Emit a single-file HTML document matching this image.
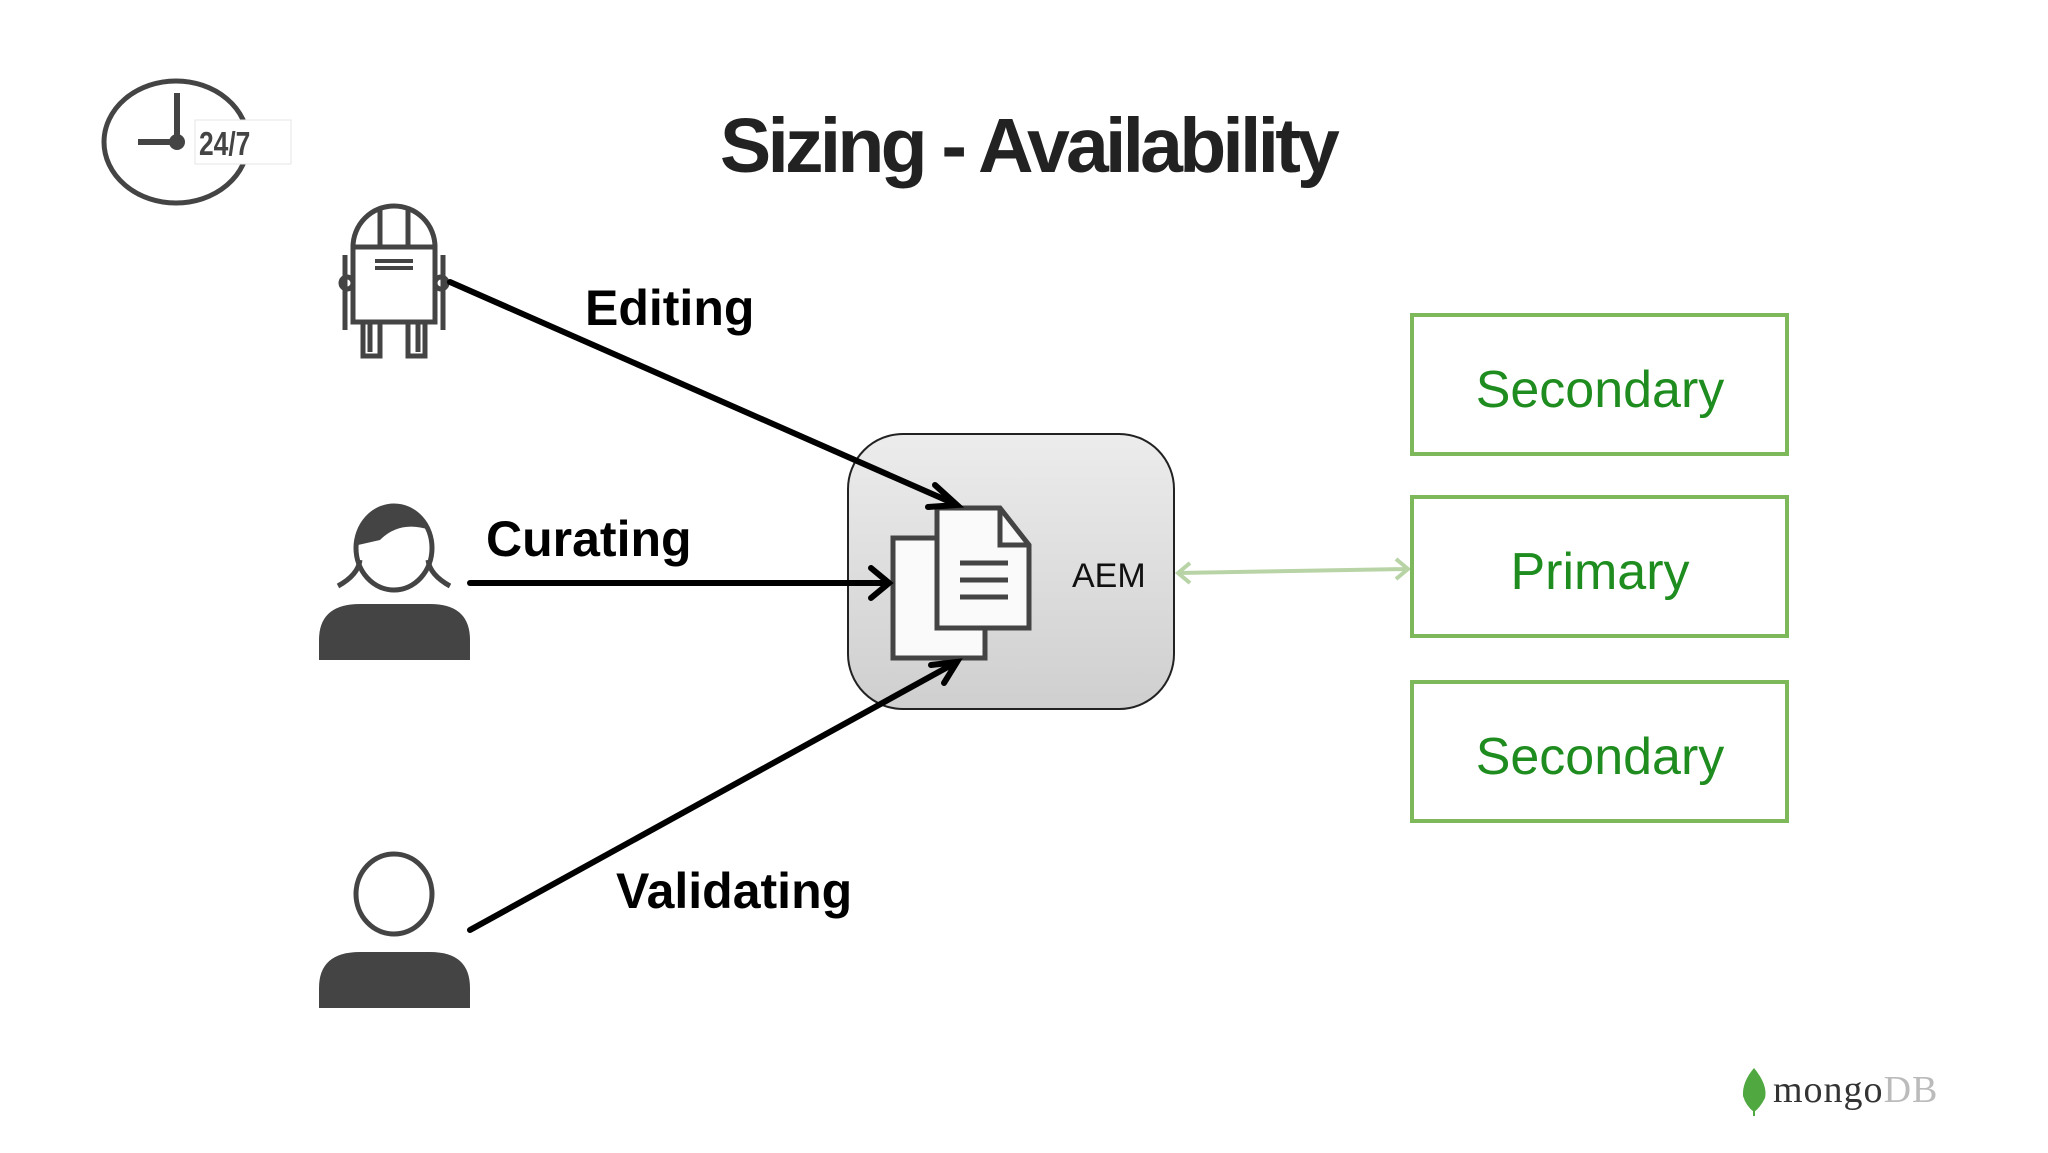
<!DOCTYPE html>
<html><head><meta charset="utf-8"><style>
html,body{margin:0;padding:0;background:#fff;}
svg{display:block}
</style></head><body>
<svg width="2048" height="1153" viewBox="0 0 2048 1153" xmlns="http://www.w3.org/2000/svg">
<defs>
<linearGradient id="g" x1="0" y1="0" x2="0" y2="1">
<stop offset="0" stop-color="#ececec"/><stop offset="1" stop-color="#cfcfcf"/>
</linearGradient>
</defs>
<!-- clock -->
<ellipse cx="176" cy="142" rx="72" ry="61" fill="none" stroke="#444" stroke-width="5"/>
<line x1="177" y1="93" x2="177" y2="142" stroke="#444" stroke-width="6"/>
<line x1="138" y1="142" x2="177" y2="142" stroke="#444" stroke-width="6"/>
<circle cx="177" cy="142" r="8" fill="#444"/>
<rect x="195" y="120" width="96" height="44" fill="#fff" stroke="#e4e4e4" stroke-width="1"/>
<text x="199" y="155" font-family="Liberation Sans Narrow, Liberation Sans, sans-serif" font-size="33" font-weight="bold" fill="#444" transform="translate(199 0) scale(0.8 1) translate(-199 0)">24/7</text>
<!-- title -->
<text x="1028" y="172" text-anchor="middle" font-family="Liberation Sans, sans-serif" font-size="77" font-weight="bold" fill="#222" letter-spacing="-3.8">Sizing - Availability</text>
<!-- robot -->
<g fill="none" stroke="#444" stroke-width="5">
<path d="M353 258 V247 a41 41 0 0 1 82 0 V258"/>
<rect x="353" y="247" width="82" height="75"/>
<line x1="380" y1="210" x2="380" y2="247"/><line x1="408" y1="210" x2="408" y2="247"/>
<line x1="345" y1="255" x2="345" y2="330"/><line x1="443" y1="255" x2="443" y2="330"/>
<circle cx="347" cy="283" r="6"/><circle cx="441" cy="283" r="6"/>
<path d="M363 322 V356 H380 V322 M408 322 V356 H425 V322"/>
<line x1="370" y1="322" x2="370" y2="352"/><line x1="418" y1="322" x2="418" y2="352"/>
</g>
<rect x="375" y="259" width="38" height="4" fill="#444"/><rect x="375" y="266" width="38" height="4" fill="#444"/>
<!-- woman -->
<g fill="none" stroke="#444" stroke-width="5">
<ellipse cx="394" cy="548" rx="38" ry="42"/>
<path d="M360 560 Q358 575 338 586 M428 560 Q430 575 450 586"/>
</g>
<path d="M358 545 Q362 508 394 506 Q422 508 430 530 Q400 520 380 540 Z" fill="#444"/>
<path d="M319 660 V640 Q319 604 360 604 H430 Q470 604 470 640 V660 Z" fill="#444"/>
<!-- person 3 -->
<ellipse cx="394" cy="894" rx="38" ry="40" fill="none" stroke="#444" stroke-width="5"/>
<path d="M319 1008 V988 Q319 952 360 952 H430 Q470 952 470 988 V1008 Z" fill="#444"/>
<!-- AEM box -->
<rect x="848" y="434" width="326" height="275" rx="55" fill="url(#g)" stroke="#222" stroke-width="2"/>
<g fill="#fafafa" stroke="#444" stroke-width="5">
<rect x="893" y="538" width="92" height="120"/>
<path d="M937 508 H1000 L1029 545 V628 H937 Z"/>
</g>
<path d="M1000 508 V545 H1029" fill="none" stroke="#444" stroke-width="5"/>
<g stroke="#444" stroke-width="5"><line x1="960" y1="563" x2="1008" y2="563"/><line x1="960" y1="580" x2="1008" y2="580"/><line x1="960" y1="597" x2="1008" y2="597"/></g>
<text x="1072" y="587" font-family="Liberation Sans, sans-serif" font-size="34" fill="#111">AEM</text>
<!-- arrows -->
<g stroke="#000" stroke-width="6" fill="none" stroke-linecap="round">
<line x1="450" y1="282" x2="955" y2="504"/>
<path d="M935 485 L957 505 L928 507"/>
<line x1="470" y1="583" x2="887" y2="583"/>
<path d="M871 568 L889 583 L871 598"/>
<line x1="470" y1="930" x2="955" y2="663"/>
<path d="M944 683 L957 662 L931 665"/>
</g>
<g font-family="Liberation Sans, sans-serif" font-weight="bold" font-size="50" fill="#000">
<text x="585" y="325">Editing</text>
<text x="486" y="556">Curating</text>
<text x="616" y="908">Validating</text>
</g>
<!-- double arrow -->
<g stroke="#b8d4a6" stroke-width="4" fill="none">
<line x1="1178" y1="573" x2="1408" y2="569"/>
<path d="M1190 563 L1178 573 L1190 583 M1396 559 L1408 569 L1396 579"/>
</g>
<!-- green boxes -->
<g fill="#fff" stroke="#7db95a" stroke-width="4">
<rect x="1412" y="315" width="375" height="139"/>
<rect x="1412" y="497" width="375" height="139"/>
<rect x="1412" y="682" width="375" height="139"/>
</g>
<g font-family="Liberation Sans, sans-serif" font-size="52" fill="#1e8c1e" text-anchor="middle">
<text x="1600" y="407">Secondary</text>
<text x="1600" y="589">Primary</text>
<text x="1600" y="774">Secondary</text>
</g>
<!-- mongoDB -->
<path d="M1754 1068 Q1768 1085 1765 1098 Q1760 1108 1754 1112 Q1746 1106 1743 1096 Q1742 1082 1754 1068 Z" fill="#4fa840"/>
<line x1="1754" y1="1100" x2="1754" y2="1116" stroke="#4fa840" stroke-width="2"/>
<text x="1773" y="1102" font-family="Liberation Serif, serif" font-size="38" fill="#333" letter-spacing="1">mongo<tspan fill="#bbb">DB</tspan></text>
</svg>
</body></html>
